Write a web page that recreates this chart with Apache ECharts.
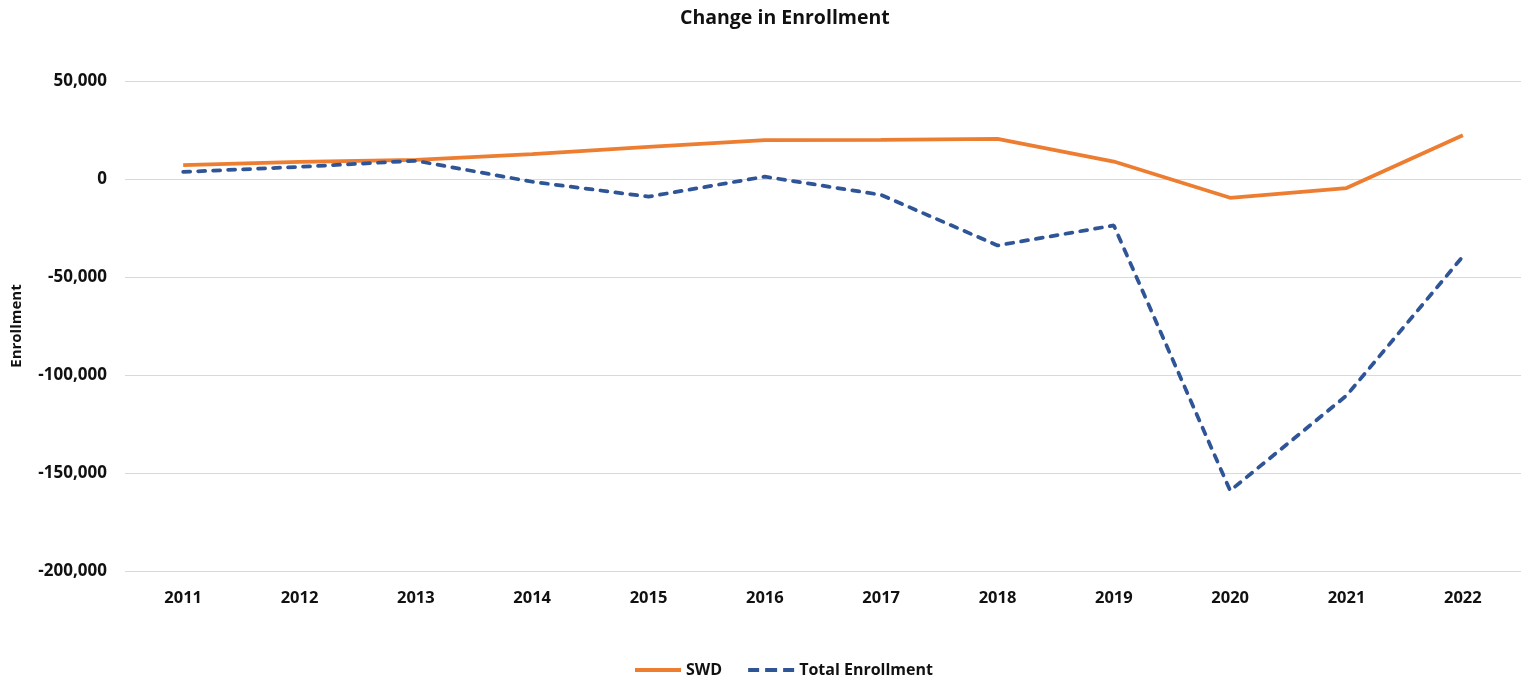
<!DOCTYPE html>
<html lang="en">
<head>
    <meta charset="UTF-8">
    <title>Change in Enrollment</title>
    <script src="https://cdn.jsdelivr.net/npm/echarts@6/dist/echarts.min.js"></script>
    <style>
        html, body { margin: 0; padding: 0; background: #fff; }
        #main { width: 1523px; height: 681px; }
    </style>
</head>
<body>
<div id="main"></div>
<script>
    // 数据
    var years = ['2011', '2012', '2013', '2014', '2015', '2016', '2017', '2018', '2019', '2020', '2021', '2022'];
    var swd = [7100, 8800, 9700, 12700, 16400, 19800, 20000, 20500, 8900, -9600, -4600, 22300];
    var totalEnrollment = [3600, 6200, 9300, -1400, -9000, 1200, -8100, -33900, -23700, -159000, -110500, -39500];

    var fontFam = '"Open Sans", "Noto Sans", sans-serif';
    var myChart = echarts.init(document.getElementById('main'));

    var option = {
        animation: false,
        title: {
            text: 'Change in Enrollment',
            left: 675,
            top: 3,
            textStyle: { fontFamily: fontFam, fontSize: 19.5, fontWeight: 'bold', color: '#111' }
        },
        legend: {
            top: 657,
            left: 630,
            itemWidth: 46,
            itemHeight: 4,
            itemGap: 26,
            textStyle: { fontFamily: fontFam, fontSize: 16, fontWeight: 'bold', color: '#111' },
            data: [
                { name: 'SWD', icon: 'path://M0,0 L46,0 L46,4 L0,4 Z' },
                { name: 'Total Enrollment', icon: 'path://M0,0 h11 v4 h-11 Z M17,0 h12 v4 h-12 Z M35,0 h11 v4 h-11 Z' }
            ]
        },
        grid: {
            left: 125,
            right: 2,
            top: 81,
            bottom: 110
        },
        xAxis: {
            type: 'category',
            data: years,
            boundaryGap: true,
            axisLine: { show: false },
            axisTick: { show: false },
            axisLabel: { fontFamily: fontFam, fontSize: 16.5, fontWeight: 'bold', color: '#111', margin: 19 }
        },
        yAxis: {
            type: 'value',
            min: -200000,
            max: 50000,
            interval: 50000,
            name: 'Enrollment',
            nameLocation: 'middle',
            nameGap: 101,
            nameTextStyle: { fontFamily: fontFam, fontSize: 15, fontWeight: 'bold', color: '#111' },
            axisLine: { show: false },
            axisTick: { show: false },
            splitLine: { lineStyle: { color: '#d9d9d9', width: 1 } },
            axisLabel: {
                fontFamily: fontFam, fontSize: 17, fontWeight: 'bold', color: '#111', margin: 18,
                formatter: function (v) { return v.toLocaleString('en-US'); }
            }
        },
        series: [
            {
                name: 'SWD',
                type: 'line',
                data: swd,
                symbol: 'none',
                itemStyle: { color: '#ED7D31' },
                lineStyle: { color: '#ED7D31', width: 3.75 }
            },
            {
                name: 'Total Enrollment',
                type: 'line',
                data: totalEnrollment,
                symbol: 'none',
                itemStyle: { color: '#2F5597' },
                lineStyle: { color: '#2F5597', width: 3.75, type: [7, 8], cap: 'round' }
            }
        ]
    };
    myChart.setOption(option);
</script>
</body>
</html>
